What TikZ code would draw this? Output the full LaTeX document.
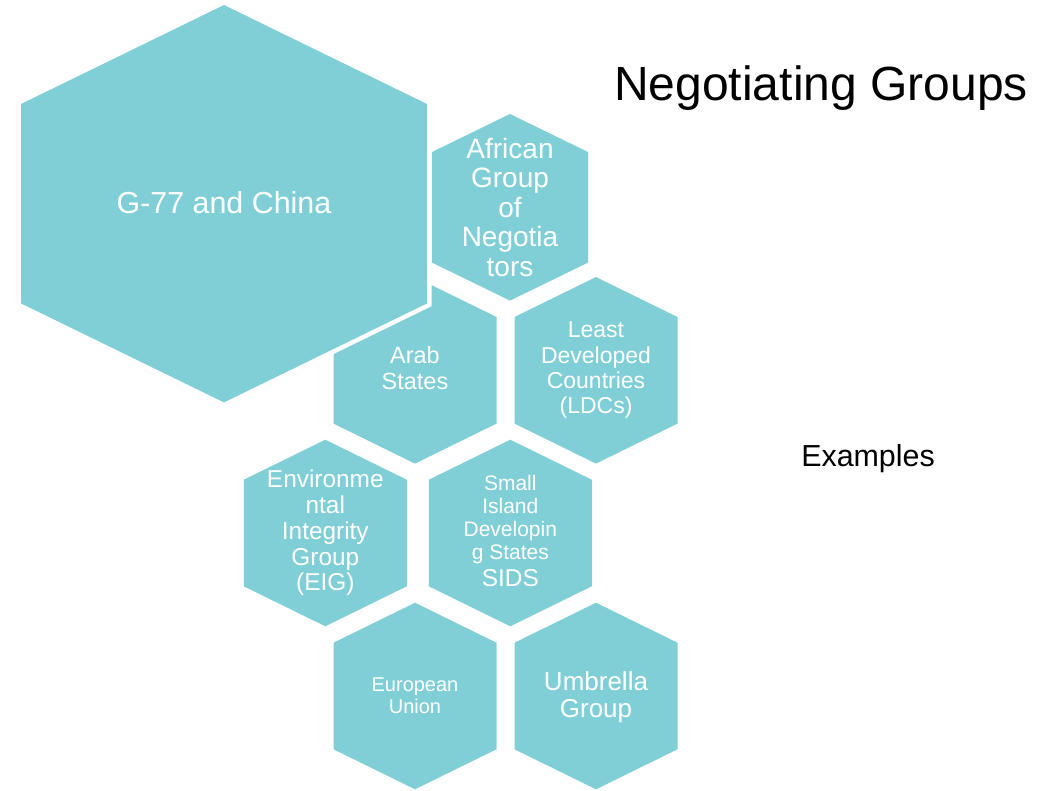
\documentclass[tikz,border=0pt]{standalone}
\usepackage{fontspec}
\setmainfont{Liberation Sans}
\usepackage{xcolor}
\usepackage{tikz}
\definecolor{wabe}{RGB}{129,207,214}

\begin{document}
\begin{tikzpicture}[x=0.75pt,y=-0.75pt,
	sechseck/.style={fill=wabe,preaction={draw=white,line width=6.75pt}},
	beschriftung/.style={text=white,align=center,inner sep=0pt}]

\useasboundingbox (0,0) rectangle (1063,790);									% Rand

\fill[sechseck] (415,277) -- ++(81.5,40) -- ++(0,106.6) -- ++(-81.5,40) -- ++(-81.5,-40) -- ++(0,-106.6) -- cycle;	% Arab States
\fill[sechseck] (224,5) -- ++(203,99) -- ++(0,199.4) -- ++(-203,99) -- ++(-203,-99) -- ++(0,-199.4) -- cycle;		% G-77 gross, ueber Arab
\fill[sechseck] (510,114) -- ++(78,38) -- ++(0,110.6) -- ++(-78,38) -- ++(-78,-38) -- ++(0,-110.6) -- cycle;		% African Group
\fill[sechseck] (596,277) -- ++(81.5,40) -- ++(0,106.6) -- ++(-81.5,40) -- ++(-81.5,-40) -- ++(0,-106.6) -- cycle;	% LDCs
\fill[sechseck] (325.3,439.7) -- ++(81.5,40) -- ++(0,106.6) -- ++(-81.5,40) -- ++(-81.5,-40) -- ++(0,-106.6) -- cycle;	% EIG
\fill[sechseck] (510.3,439.7) -- ++(81.5,40) -- ++(0,106.6) -- ++(-81.5,40) -- ++(-81.5,-40) -- ++(0,-106.6) -- cycle;	% SIDS
\fill[sechseck] (415,602.7) -- ++(81.5,40) -- ++(0,106.6) -- ++(-81.5,40) -- ++(-81.5,-40) -- ++(0,-106.6) -- cycle;	% EU
\fill[sechseck] (596,602.7) -- ++(81.5,40) -- ++(0,106.6) -- ++(-81.5,40) -- ++(-81.5,-40) -- ++(0,-106.6) -- cycle;	% Umbrella

\node[beschriftung,font=\fontsize{22.8}{25}\selectfont] (gruppe77) at (224,203) {G-77 and China};			% Text gross
\node[beschriftung,font=\fontsize{21}{22.2}\selectfont] (afrika) at (510,207.3) {African\\Group\\of\\Negotia\\tors};
\node[beschriftung,font=\fontsize{17.6}{19.5}\selectfont] (arab) at (415,368) {Arab\\States};
\node[beschriftung,font=\fontsize{17.25}{19}\selectfont] (ldc) at (596,370.3) {Least\\Developed\\Countries\\(LDCs)};
\node[beschriftung,font=\fontsize{18.3}{19.35}\selectfont] (eig) at (325.3,533) {Environme\\ntal\\Integrity\\Group\\(EIG)};
\node[beschriftung,font=\fontsize{15.75}{17.25}\selectfont] (sids) at (510.3,531) {Small\\Island\\Developin\\g States\\[2.5pt]{\fontsize{18.3}{19}\selectfont SIDS}};
\node[beschriftung,font=\fontsize{15}{16.7}\selectfont] (eu) at (415,696) {European\\Union};
\node[beschriftung,font=\fontsize{19.5}{20.5}\selectfont] (umbrella) at (596,697) {Umbrella\\Group};

\node[anchor=base west,inner sep=0pt,font=\fontsize{36}{40}\selectfont] (titel) at (614,100.7) {Negotiating Groups};	% Ueberschrift
\node[anchor=base west,inner sep=0pt,font=\fontsize{22.8}{26}\selectfont] (beispiele) at (801,466.7) {Examples};

\end{tikzpicture}
\end{document}
